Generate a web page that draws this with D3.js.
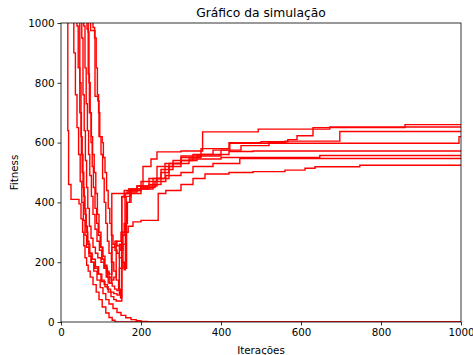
<!DOCTYPE html>
<html><head><meta charset="utf-8">
<script src="https://cdn.jsdelivr.net/npm/d3@7"></script>
<style>
html,body{margin:0;padding:0;background:#fff;}
text{font-family:"DejaVu Sans",sans-serif;fill:#000;}
</style></head>
<body><svg id="c" width="473" height="355"></svg>
<script>
const title = "Gráfico da simulação";
const xLabel = "Iterações";
const yLabel = "Fitness";
const xTicks = [0, 200, 400, 600, 800, 1000];
const yTicks = [0, 200, 400, 600, 800, 1000];

// each run: [iteration, fitness] where the fitness changes (step after)
const runZ1 = [[0,1500],[17,640],[19,460],[25,410],[45,395],[50,345],[54,300],[57,255],[60,215],[64,190],[68,170],[73,150],[80,125],[88,100],[95,75],[103,50],[112,30],[120,15],[128,6],[135,0],[1000,0]];
const runZ2 = [[0,1500],[40,990],[43,850],[47,700],[51,560],[55,450],[58,380],[62,320],[66,270],[70,230],[75,200],[82,170],[90,140],[98,115],[105,95],[112,75],[120,60],[130,45],[140,32],[150,22],[162,14],[175,8],[188,4],[200,2],[215,0],[1000,0]];
const runR1 = [[0,1500],[74,975],[85,755],[92,740],[95,620],[100,560],[104,480],[108,400],[112,330],[116,270],[120,230],[126,200],[132,170],[138,140],[144,110],[149,80],[152,420],[158,440],[170,445],[190,455],[205,520],[225,545],[240,569],[300,572],[354,636],[493,645],[630,650],[860,660],[1000,660]];
const runR2 = [[0,1500],[80,985],[84,950],[88,850],[91,760],[94,700],[97,620],[103,600],[106,550],[110,500],[114,440],[118,380],[122,330],[126,290],[130,260],[135,240],[140,230],[146,215],[152,200],[158,175],[161,330],[166,400],[175,430],[200,445],[230,480],[260,530],[300,555],[350,580],[420,600],[500,603],[567,610],[590,623],[630,645],[672,652],[1000,652]];
const runR3 = [[0,1500],[32,900],[36,760],[40,650],[44,560],[48,470],[52,400],[56,340],[60,290],[64,250],[70,220],[76,200],[84,180],[92,160],[100,140],[108,125],[116,110],[124,100],[132,95],[140,90],[146,260],[152,290],[160,300],[168,320],[180,335],[200,340],[243,430],[262,440],[300,460],[330,480],[360,495],[420,500],[480,503],[560,508],[610,514],[635,519],[747,524],[1000,524]];
const runR4 = [[0,1500],[47,800],[50,620],[53,500],[57,420],[60,360],[63,300],[67,260],[72,230],[78,210],[86,185],[94,160],[102,135],[110,118],[118,100],[125,85],[132,75],[138,70],[152,418],[160,430],[175,440],[200,450],[235,470],[262,490],[300,500],[330,520],[380,530],[447,547],[1000,547]];
const runR5 = [[0,1500],[52,950],[55,760],[58,640],[61,540],[64,450],[67,380],[71,320],[75,280],[80,250],[86,230],[92,215],[100,200],[108,180],[116,150],[122,130],[128,120],[134,110],[140,105],[146,180],[155,260],[163,180],[164,400],[172,440],[190,455],[220,480],[250,510],[280,530],[320,545],[400,550],[647,557],[1000,557]];
const runR6 = [[0,1500],[65,980],[68,830],[71,700],[75,600],[78,520],[81,450],[85,380],[89,330],[93,290],[98,250],[103,210],[108,180],[113,150],[118,130],[127,430],[165,435],[190,445],[220,460],[250,500],[270,530],[300,550],[350,560],[420,570],[480,572],[1000,572]];
const runR7 = [[0,1500],[68,970],[70,800],[73,700],[76,620],[79,560],[83,500],[87,430],[91,360],[95,300],[100,250],[105,220],[110,190],[115,170],[120,160],[127,250],[135,270],[140,255],[148,240],[155,300],[160,430],[170,445],[200,470],[240,520],[280,540],[330,560],[380,575],[422,598],[995,620],[1000,620]];
const runR8 = [[0,1500],[57,990],[60,850],[63,730],[66,640],[69,560],[72,490],[76,420],[80,360],[85,310],[90,270],[96,240],[102,210],[108,185],[114,165],[120,150],[126,140],[132,150],[138,270],[150,300],[158,330],[163,420],[175,440],[200,455],[240,480],[270,520],[300,540],[340,555],[400,575],[450,590],[520,600],[560,605],[697,637],[1000,637]];

const runs = [runZ1, runZ2, runR1, runR2, runR3, runR4, runR5, runR6, runR7, runR8];

const svg = d3.select("#c");
const m = {l:61, r:12, t:23, b:33};
const W = 473, H = 355;
const x = d3.scaleLinear().domain([0,1000]).range([m.l, W - m.r]);
const y = d3.scaleLinear().domain([0,1000]).range([H - m.b, m.t]);

svg.append("defs").append("clipPath").attr("id","clip")
  .append("rect").attr("x", m.l).attr("y", m.t)
  .attr("width", W - m.r - m.l).attr("height", H - m.b - m.t);

const line = d3.line().x(d => x(d[0])).y(d => y(d[1])).curve(d3.curveStepAfter);
svg.append("g").attr("clip-path","url(#clip)")
  .selectAll("path").data(runs).join("path")
  .attr("d", line).attr("fill","none").attr("stroke","#ff0000")
  .attr("stroke-width",1.4).attr("stroke-linejoin","miter");

// axes
const xa = svg.append("g").attr("transform",`translate(0,${H - m.b})`)
  .call(d3.axisBottom(x).tickValues(xTicks).tickFormat(d3.format("d")).tickSize(3.5).tickPadding(3));
const ya = svg.append("g").attr("transform",`translate(${m.l},0)`)
  .call(d3.axisLeft(y).tickValues(yTicks).tickFormat(d3.format("d")).tickSize(3.5).tickPadding(3));
[xa, ya].forEach(g => {
  g.select(".domain").remove();
  g.selectAll("line").attr("stroke","#000").attr("stroke-width",0.8);
  g.selectAll("text").attr("font-size","10.3px").attr("font-family","DejaVu Sans").attr("fill","#000");
});

// frame
svg.append("rect").attr("x", m.l).attr("y", m.t)
  .attr("width", W - m.r - m.l).attr("height", H - m.b - m.t)
  .attr("fill","none").attr("stroke","#000").attr("stroke-width",0.8);

svg.append("text").attr("x", (m.l + W - m.r)/2).attr("y", 17)
  .attr("text-anchor","middle").attr("font-size","12.3px").text(title);
svg.append("text").attr("x", (m.l + W - m.r)/2).attr("y", 354)
  .attr("text-anchor","middle").attr("font-size","10.3px").text(xLabel);
svg.append("text").attr("transform",`translate(18,${(m.t + H - m.b)/2}) rotate(-90)`)
  .attr("text-anchor","middle").attr("font-size","10.3px").text(yLabel);
</script></body></html>
